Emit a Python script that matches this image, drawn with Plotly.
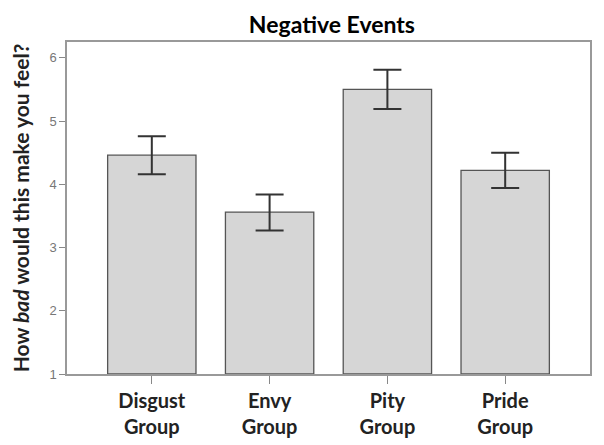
import plotly.graph_objects as go

categories = ["Disgust<br>Group", "Envy<br>Group", "Pity<br>Group", "Pride<br>Group"]
means = [4.46, 3.56, 5.50, 4.22]
err_plus = [0.30, 0.28, 0.31, 0.28]
err_minus = [0.30, 0.29, 0.31, 0.28]
y_ticks = [1, 2, 3, 4, 5, 6]

fig = go.Figure(go.Bar(
    x=list(range(len(categories))),
    y=[m - 1 for m in means],
    base=1,
    marker=dict(color="#d6d6d6", line=dict(color="#555555", width=1.3)),
    error_y=dict(type="data", symmetric=False, array=err_plus, arrayminus=err_minus,
                 color="#333333", thickness=2, width=14),
    width=0.75,
    hoverinfo="skip",
))

# The page body has an 8px margin, so the figure is drawn 8px in from the window edge.
fig.update_layout(
    width=596, height=437,
    margin=dict(l=59, r=14, t=34, b=71),
    paper_bgcolor="white", plot_bgcolor="white",
    title=dict(text="<b>Negative Events</b>", x=0.5435, xanchor="center", y=0.962, yanchor="middle",
               font=dict(family="Lato", size=23, color="black")),
    showlegend=False,
    xaxis=dict(
        range=[-0.72, 3.72], automargin=False,
        tickmode="array", tickvals=list(range(len(categories))),
        ticktext=["<b>%s</b>" % c for c in categories],
        tickfont=dict(family="Lato", size=20, color="#222222"),
        ticks="outside", ticklen=8, tickcolor="#888888", tickwidth=1,
        showline=True, linecolor="#999999", linewidth=1.5, mirror=True,
        showgrid=False, zeroline=False,
    ),
    yaxis=dict(
        range=[1, 6.25], automargin=False,
        tickmode="array", tickvals=y_ticks, ticktext=[str(t) for t in y_ticks],
        tickfont=dict(family="Liberation Sans", size=13, color="#777777"),
        ticks="outside", ticklen=6, tickcolor="#888888", tickwidth=1,
        showline=True, linecolor="#999999", linewidth=1.5, mirror=True,
        showgrid=False, zeroline=False,
        title=dict(text="<b>How <i>bad</i> would this make you feel?</b>",
                   font=dict(family="Lato", size=21, color="#222222"), standoff=16),
    ),
)

fig.write_html("out.html")
